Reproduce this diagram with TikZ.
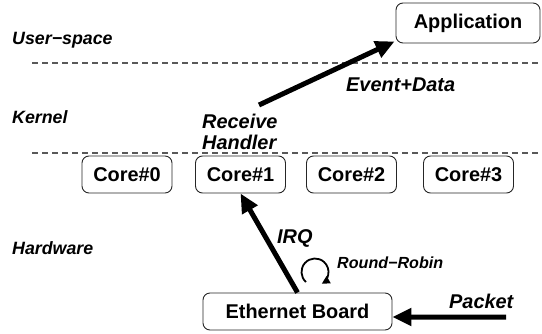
\documentclass[tikz,border=0pt]{standalone}
\usepackage{fontspec}
\setmainfont{Liberation Sans}
\usetikzlibrary{arrows.meta}
\begin{document}
\begin{tikzpicture}[x=1bp,y=1bp,
  box/.style={draw=black!85,line width=0.9bp,rounded corners=7bp,inner sep=0pt,
    minimum height=37bp,font=\fontsize{19.9bp}{20.7bp}\selectfont\bfseries},
  corebox/.style={box,minimum width=90bp},
  layerlbl/.style={anchor=base west,inner sep=0pt,font=\fontsize{17.8bp}{19bp}\selectfont\bfseries\itshape},
  lbl/.style={anchor=base west,inner sep=0pt,font=\fontsize{19.9bp}{20.7bp}\selectfont\bfseries\itshape},
  sep/.style={draw=black!65,line width=1.1bp,dash pattern=on 6bp off 4bp},
  bigarrow/.style={draw=black,line width=5bp,-{Triangle[length=19bp,width=17bp]}},
]
\useasboundingbox (0,0) rectangle (542,333);
% separators
\draw[sep] (32,270) -- (542,270);
\draw[sep] (32,180) -- (542,180);
% layer labels
\node[layerlbl] (us) at (12,288.5) {User−space};
\node[layerlbl] (kn) at (12,210) {Kernel};
\node[layerlbl] (hw) at (12,78.5) {Hardware};
% boxes
\node[box,minimum width=144bp,minimum height=40bp] (app) at (468,310) {Application};
\node[corebox] (c0) at (127,158.5) {Core\#0};
\node[corebox] (c1) at (240.5,158.5) {Core\#1};
\node[corebox] (c2) at (351.5,158.5) {Core\#2};
\node[corebox] (c3) at (468.5,158.5) {Core\#3};
\node[box,minimum width=189bp] (eth) at (297.5,21.5) {Ethernet Board};
% labels
\node[lbl] (ed) at (346,241.5) {Event+Data};
\node[lbl,align=left,anchor=north west] (rh) at (202,219) {Receive\\Handler};
\node[lbl] (irq) at (277,90) {IRQ};
\node[lbl] (pk) at (449,24.4) {Packet};
\node[anchor=base west,inner sep=0pt,font=\fontsize{16.1bp}{17bp}\selectfont\bfseries\itshape] (rr) at (337,65) {Round−Robin};
% arrows
\coordinate (rhs) at (259,228);
\draw[bigarrow] (rhs) -- ([xshift=-1bp,yshift=2bp]app.south west);
\draw[bigarrow] (eth.north) -- (c1.south);
\coordinate (pks) at (506,16);
\draw[bigarrow] (pks) -- ([yshift=-5.5bp]eth.east);
% round-robin circular arrow
\coordinate (rrc) at (315,61);
\draw[line width=1.8bp,-{Triangle[length=8bp,width=8bp]}] ([shift={(228:13.5bp)}]rrc) arc[start angle=228,end angle=-60,radius=13.5bp];
\end{tikzpicture}
\end{document}
